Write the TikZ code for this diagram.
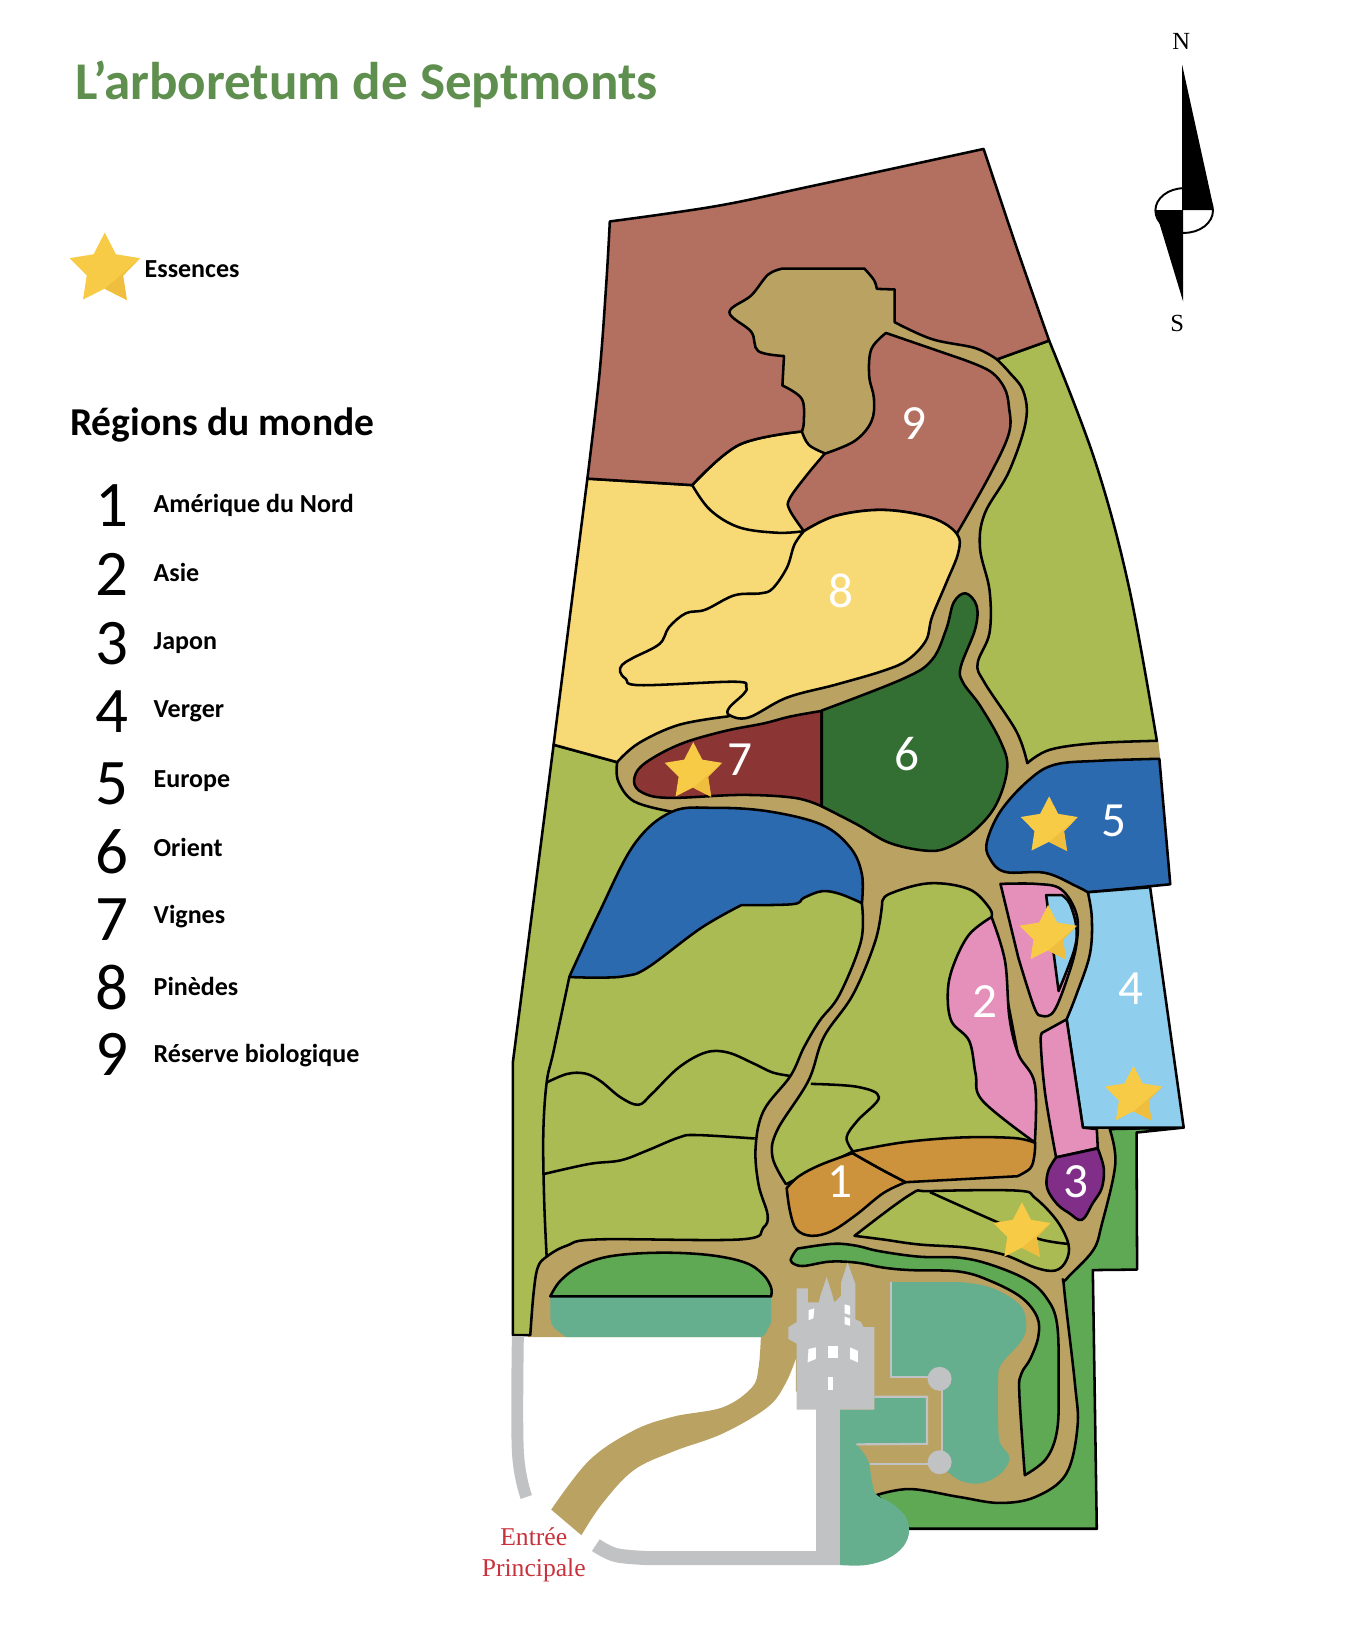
\documentclass[tikz,border=0pt]{standalone}
\usepackage{fontspec}
\setmainfont{Carlito}
\newfontfamily\mapserif{Liberation Serif}
\usetikzlibrary{shapes.geometric}
\definecolor{roadc}{HTML}{B9A262}
\definecolor{sagec}{HTML}{AABB53}
\definecolor{brownc}{HTML}{B37060}
\definecolor{yellowc}{HTML}{F7D975}
\definecolor{pinec}{HTML}{336E33}
\definecolor{winec}{HTML}{8C3535}
\definecolor{bluec}{HTML}{2C6AB0}
\definecolor{skyc}{HTML}{90CEEE}
\definecolor{pinkc}{HTML}{E590BA}
\definecolor{purplec}{HTML}{802E88}
\definecolor{orangec}{HTML}{CC923C}
\definecolor{meadowc}{HTML}{5FA955}
\definecolor{tealc}{HTML}{65AE8E}
\definecolor{stonec}{HTML}{C1C2C4}
\definecolor{titlec}{HTML}{5F8F4E}
\definecolor{entryc}{HTML}{C8323C}
\definecolor{starfill}{HTML}{F7CB45}
\definecolor{starshade}{HTML}{F0BE3E}
\newcommand{\starfacet}[1]{\fill[starshade] (#1.outer point 5) -- (#1.inner point 4) -- (#1.outer point 4) -- (#1.inner point 3) -- cycle;}
\tikzset{
    zone/.style = {draw=black,line width=1.45pt,line join=round},
    soft/.style = {smooth,tension=.6},
    stonepath/.style = {draw=stonec,line width=1.2pt},
    stoneroad/.style = {draw=stonec,line width=#1},
    essence/.style = {star,star points=5,star point ratio=1.95,inner sep=0pt,fill=starfill,minimum size=1.2cm},
    mapnum/.style = {text=white,font=\fontsize{28}{30}\selectfont},
    regnum/.style = {font=\fontsize{37}{40}\selectfont},
    reglabel/.style = {anchor=west,font=\fontsize{14.8}{16}\selectfont\bfseries},
    compass/.style = {font=\mapserif\fontsize{14}{16}\selectfont}
}
\begin{document}
\begin{tikzpicture}[x=0.01986cm,y=-0.01986cm]
\path[use as bounding box] (-1.5,-1.5) rectangle (1374.1,1646);
% road under everything
\fill[roadc] (640,470) -- (700,250) -- (900,250) -- (1040,345) -- (1060,500) -- (1060,700) -- (1165,745) -- (1167,763) -- (1170,880) -- (1140,890) -- (1130,1140) -- (1125,1200) -- (1092,1290) -- (1092,1440) -- (1085,1500) -- (1040,1525) -- (881,1525) -- (835,1450) -- (835,1400) -- (800,1400) -- (800,1345) -- (530,1345) -- (535,1100) -- (560,800) -- (600,700) -- cycle;
% meadow east and south
\draw[zone,fill=meadowc] (1190.5,1134) -- (1143,1139) -- (1143.6,1277) -- (1099,1277.5) -- (1103,1538) -- (914,1538) -- (881.4,1504) -- plot[soft] coordinates {(881.4,1504) (915,1498) (964.5,1506) (1005,1512) (1041,1506) (1072,1483) (1083.5,1436) (1081,1392) (1070,1295) (1072,1287) (1099,1258) (1108,1231.6) (1121.6,1171) (1116,1135.5)} -- cycle;
% sage west
\draw[zone,fill=sagec] (556,748.5) -- (620,766) -- plot[soft] coordinates {(620,766) (621,785) (637,805.5) (673,815.5)} -- (720,830) -- (800,850) -- (860,885) -- plot[soft] coordinates {(866.5,909) (865.6,946) (844,1000) (823.8,1026.6) (808,1053.4) (794.5,1082) (767.5,1117) (759.4,1154) (762.4,1191.5) (771.4,1221.6) (767,1235) (744.5,1246.6) (601,1246.6) (569,1253) (549,1264) (540,1275) (535.7,1302) (532.5,1343)} -- (515,1343) -- (515,1068) -- cycle;
\draw[zone] plot[soft] coordinates {(571.7,983) (556,1057) (549,1088.6) (545.6,1140.5) (546.5,1207.5) (549,1264)};
\draw[zone] plot[soft] coordinates {(549,1088.6) (569.5,1080) (587.5,1079.5) (603,1087) (623.5,1103.6) (641.5,1111) (655,1100) (682,1073.5) (709,1058.4) (731.5,1058.4) (758.5,1070) (776.5,1078.5) (794.5,1082)};
\draw[zone] plot[soft] coordinates {(546.5,1180.7) (592,1170.6) (623.5,1167) (650.5,1157) (682,1144) (700,1141.5) (758.5,1145)};
% sage east
\draw[zone,fill=sagec] (1055,341.5) -- (1002.4,360.4) -- plot[soft] coordinates {(1002.4,360.4) (1014.5,373) (1029,392.5) (1031.5,423) (1014.5,473.5) (990,516) (985.4,550.7) (995,593) (995,635.7) (983,666.5) (990,686) (1022,735) (1033,767)} -- plot[soft] coordinates {(1033,767) (1055.5,753.6) (1100.5,747) (1163.5,744.5)} -- plot[soft] coordinates {(1163.5,744.5) (1135,588) (1101,462) (1055,341.5)} -- cycle;
% sage centre
\draw[zone,fill=sagec] plot[soft] coordinates {(886.8,909) (893.5,899) (934,888) (974.5,894) (995,913) (997,922)} -- (1040.6,1149) -- (857.5,1158) -- (790,1191) -- plot[soft] coordinates {(790,1191) (776.5,1164) (781,1137) (812.5,1087) (828,1043) (857.5,1000) (880,946) (886.8,909)} -- cycle;
\draw[zone] plot[soft] coordinates {(815,1090) (862,1093) (883.6,1103.6) (862,1127) (851,1144) (857.5,1158)};
% yellow west, brown north
\draw[zone,fill=yellowc] (590,480.5) -- (695.6,487) -- plot[soft] coordinates {(695.6,487) (742.7,446.5) (806,433)} -- plot[soft] coordinates {(806,433) (813,446.5) (829,455)} -- (808,533) -- (850,600) -- (760,710) -- plot[soft] coordinates {(731,720) (682,728.5) (641.5,747) (620,766)} -- (556,748.5) -- cycle;
\draw[zone] plot[soft] coordinates {(695.6,487) (713.6,512) (742.7,529.5) (781.5,535) (808,533.4)};
\draw[zone,fill=brownc] plot[soft] coordinates {(612.6,221.5) (720,206) (815.5,186) (989,148.5)} -- plot[soft] coordinates {(989,148.5) (1022,247) (1055,341.5)} -- (1002.4,360.4) -- plot[soft] coordinates {(1002.4,360.4) (980.5,349) (937,340) (899.5,323)} -- (899.5,290) -- (881.5,289.4) -- plot[soft] coordinates {(881.5,289.4) (878.6,280.5) (869,269)} -- plot[soft] coordinates {(786.4,269) (772,275) (755,296) (733,313) (755,332.6) (762,352) (788,357)} -- (786.4,386.7) -- plot[soft] coordinates {(786.4,386.7) (805.8,400) (808,423) (806,433)} -- plot[soft] coordinates {(806,433) (742.7,446.5) (695.6,487)} -- (590,480.5) -- plot[soft] coordinates {(590,480.5) (602,377) (609,284.4) (612.6,221.5)} -- cycle;
% zone 9 and zone 8
\draw[zone,fill=brownc] (890.7,333.8) -- plot[soft] coordinates {(966,359.7) (995,372) (1009.7,388.6) (1014.5,408) (1014.5,435) (995,477.4) (962,536)} -- plot[soft] coordinates {(962,536) (937,520) (888,512) (840,518) (808,533.4)} -- plot[soft] coordinates {(808,533.4) (793.7,512) (793.7,500.6) (810.6,477.4) (829,455.4)} -- plot[soft] coordinates {(829,455.4) (859,442.7) (876,423) (878.6,400) (873.8,377) (876,350) (890.7,333.8)} -- cycle;
\draw[zone,fill=yellowc] plot[soft] coordinates {(808,533.4) (840,518) (888,512) (937,520) (962,536) (963.6,554.6) (951.4,585.5) (937,620) (931,643.4) (912.6,663) (888,674) (840,688) (791,701) (752.4,721) (733,718.6) (733,711) (747.6,697) (750,690) (738,685) (643,688.5) (628.6,682) (623,675) (625,668) (636,661) (662.6,647) (672.3,630) (689.3,616) (708.7,612.5) (738,598) (764.5,596) (776.7,591) (791,570) (798.5,547) (808,533.4)} -- cycle;
% lake, wine, pine
\draw[zone,fill=bluec] plot[soft] coordinates {(571.7,982.4) (601,919.4) (637,849) (675,816) (718,812) (772,815.5) (826,829) (855,852.4) (866.5,879) (866.5,908)} -- plot[soft] coordinates {(866.5,908) (844,898.6) (826,896) (808,902.6) (797,909) (745,910)} -- plot[soft] coordinates {(745,910) (704.5,933) (650.5,973) (628,981.4) (601,983) (571.7,982.4)} -- cycle;
\draw[zone,fill=winec] (826,714.4) -- (826,810.5) -- plot[soft] coordinates {(826,810.5) (799,802) (745,799) (673,802) (646,797) (637,785.4) (646,768.6) (682,748.5) (727,735) (767.5,727) (794.5,720) (826,714.4)} -- cycle;
\draw[zone,fill=pinec] (826,714) -- plot[soft] coordinates {(826,714) (908,682) (937,663) (951.4,632) (959,605) (971,596) (982,608.6) (980.5,632) (966,670) (968.4,686) (985.4,709) (1006,745) (1012.8,772) (1001.5,809) (979,835.6) (952,852.4) (929.5,855) (893.5,847) (862,829) (826,810.5)} -- cycle;
% europe
\draw[zone,fill=bluec] (1166,762.6) -- (1177,889) -- (1094,897) -- plot[soft] coordinates {(1094,897) (1082.5,891) (1051,877.5) (1010.5,876.5) (995,862.5) (992.5,845.7) (1006,815.5) (1033,785.4) (1060,768.7) (1105,764.6) (1166,762.6)} -- cycle;
% orchard and the pink strips
\draw[zone,fill=skyc] (1094,897) -- (1156.7,892) -- (1190.5,1134) -- (1089,1134) -- (1072.6,1025) -- plot[soft] coordinates {(1072.6,1025) (1082.5,1000) (1096,959.6) (1098,923) (1094,897)} -- cycle;
\draw[zone,fill=pinkc] (1006,888.6) -- plot[soft] coordinates {(1006,888.6) (1042,888.6) (1067,894) (1082.5,919) (1082.5,949.6) (1073.5,983) (1060,1016.5) (1048,1021.6) (1040,1013) (1024,963)} -- cycle;
\draw[zone,fill=skyc] (1052,900) -- (1068,900) -- plot[soft] coordinates {(1068,900) (1076,909) (1082.5,933) (1080,956) (1064.5,996.5)} -- cycle;
\draw[zone,fill=pinkc] plot[soft] coordinates {(997,922) (974.5,939.5) (959,969.6) (953,996.5) (956.5,1026.6) (974.5,1046.7) (981,1080) (988,1107) (1040.6,1149)} -- plot[soft] coordinates {(1040.6,1149) (1040.6,1090) (1024,1060) (1015,1023) (1010.5,966) (997,922)} -- cycle;
\draw[zone,fill=pinkc] (1049,1038) -- (1072.6,1025) -- (1089,1134) -- (1103,1135.5) -- (1104,1154.6) -- (1062,1164) -- plot[soft] coordinates {(1062,1164) (1051,1100) (1046.5,1047) (1049,1038)} -- cycle;
% orange
\draw[zone,fill=orangec] plot[soft] coordinates {(790.7,1195) (794,1218) (800.6,1236.6) (816,1243) (836.5,1238) (861,1221.6) (888,1200) (910.6,1189)} -- plot[soft] coordinates {(910.6,1189) (884,1175) (857,1159.7)} -- plot[soft] coordinates {(857,1159.7) (825,1171.4) (803,1183) (790.7,1195)} -- cycle;
\draw[zone,fill=orangec] (910.6,1189) -- plot[soft] coordinates {(1023,1183) (1036,1175) (1040,1163) (1041,1149.5)} -- plot[soft] coordinates {(1041,1149.5) (1019.6,1144.5) (965.5,1144) (907,1149) (857.5,1158)} -- plot[soft] coordinates {(857,1159.7) (884,1175) (910.6,1189)} -- cycle;
% japan
\draw[zone,fill=purplec] (1062,1164) -- (1104,1155) -- plot[soft] coordinates {(1104,1155) (1110,1175) (1108,1195) (1099,1210) (1088,1227) (1075,1220) (1063,1211) (1053,1195) (1054,1178) (1062,1164)} -- cycle;
% small triangle
\draw[zone,fill=sagec] (859,1243) -- plot[soft] coordinates {(859,1243) (915,1201.5) (935,1198) (1023,1197.5) (1041,1205) (1063,1228) (1074.5,1251.7) (1072,1268.4) (1061,1278) (1041,1275) (1009.4,1262) (973.5,1255) (924,1251.7) (888,1246.7) (859,1243)} -- cycle;
\draw[zone] plot[soft] coordinates {(935,1199) (1000,1228) (1043,1245.7) (1073,1251)};
% meadow strip, dome
\draw[zone,fill=meadowc] plot[soft] coordinates {(795,1266) (800.6,1257) (807,1255) (838.7,1251) (861,1253) (883.7,1258.4) (924,1264) (964.5,1265) (996,1272) (1032,1287) (1052,1305) (1063,1332) (1064.6,1392) (1063,1439) (1052,1467.5) (1030.5,1484)} -- plot[soft] coordinates {(1030.5,1484) (1025,1402) (1027,1382) (1036,1367) (1044,1345) (1043,1325) (1027,1305) (996,1288.5) (964.5,1279) (915,1277.5) (888,1275) (861,1270) (834,1269) (807,1273.4) (796,1270) (795,1266)} -- cycle;
\fill[tealc] (552.7,1304) -- (775,1304) -- (775,1330) -- plot[soft] coordinates {(775,1330) (769,1342) (764.7,1345)} -- (569,1345) -- plot[soft] coordinates {(569,1345) (556,1335) (552.7,1325.3)} -- cycle;
\draw[zone,fill=meadowc] plot[soft] coordinates {(552.7,1304) (562.6,1288.5) (582.8,1273.4) (614,1263.4) (663.6,1260) (713,1262.4) (749,1270) (767,1282) (775,1295) (775,1304)} -- cycle;
% castle gardens
\fill[tealc] (896,1289.5) -- (964.5,1289.5) -- plot[soft] coordinates {(964.5,1289.5) (996,1295) (1025,1312) (1032,1332) (1027,1349) (1007,1372) (1003.5,1389) (1004,1442.4) (1007,1454) (1015,1466) (1009.4,1479) (996,1489) (980,1492.6) (964.5,1489) (953,1481)} -- (947.4,1459) -- (947.4,1392) -- (933,1385.5) -- (896,1385.5) -- cycle;
\fill[tealc] (844.6,1418) -- (879,1418) -- (879,1405) -- (932,1405) -- (932,1452.5) -- (861,1453) -- plot[soft] coordinates {(861,1453) (872.4,1469) (877,1492.6) (881.4,1504) (897,1512.7) (910.6,1526) (914,1541) (908,1556) (892.6,1568) (870,1574.6) (844.6,1574.6)} -- cycle;
\draw[stonepath] (896,1289.5) -- (896,1385.5) -- (934,1385.5);
\draw[stonepath] (879,1405) -- (932,1405) -- (932,1452.5) -- (861,1453);
\draw[stonepath] (874.7,1472.5) -- (934,1472.5);
\draw[stonepath] (947,1387) -- (947,1471);
\node[circle,fill=stonec,inner sep=0pt,minimum size=0.48cm] (fountainn) at (944.7,1387) {};
\node[circle,fill=stonec,inner sep=0pt,minimum size=0.48cm] (fountains) at (944.7,1471) {};
% entrance road and stone paths
\fill[roadc] (764.7,1345) -- plot[soft] coordinates {(764.7,1345) (762.4,1375.5) (755.7,1395.6) (726.5,1415.6) (677,1425) (636.7,1439) (592,1469) (553.6,1518.7)} -- (584,1544.5) -- plot[soft] coordinates {(584,1544.5) (605,1512.7) (636.7,1479) (677,1460) (726.5,1442) (771.4,1415.6) (789.4,1392) (800.6,1365)} -- (800.6,1345) -- cycle;
\draw[stoneroad=6.8pt] plot[soft] coordinates {(520,1344) (520,1460) (528.5,1506)};
\draw[stoneroad=8pt] plot[soft] coordinates {(598.5,1554.5) (618.7,1564.5) (650,1567.5)} -- (844,1567.5);
\draw[stoneroad=13.6pt] (832.7,1410) -- (832.7,1574.6);
% castle
\fill[stonec] (800.6,1418) -- (879,1418) -- (879,1335) -- (868,1335) -- (865.7,1330) -- (860,1327) -- (860,1292) -- (852,1270) -- (845.5,1290) -- (845.5,1303.5) -- (838.7,1310) -- (836.5,1302) -- (831,1284.5) -- (825,1302) -- (823,1310) -- (812,1310) -- (812,1296) -- (800.6,1296) -- (800.6,1330) -- (792.5,1335) -- (792.5,1347) -- (800.6,1351.4) -- cycle;
\fill[white] (812.7,1318) -- (818.5,1316) -- (817.6,1326) -- (812.7,1328) -- cycle;
\fill[white] (849,1312) -- (854.5,1313.6) -- (854.5,1322.6) -- (849,1321) -- cycle;
\fill[white] (849,1324.3) -- (854.5,1326.3) -- (854.5,1333.7) -- (849,1332) -- cycle;
\fill[white] (812.7,1357) -- (820,1355.4) -- (820,1367) -- (811.8,1370.5) -- cycle;
\fill[white] (832,1353.7) -- (842.3,1353.7) -- (842.3,1366.5) -- (832,1366.5) -- cycle;
\fill[white] (854.5,1355.4) -- (862.5,1358.8) -- (862.5,1370.5) -- (854.5,1367) -- cycle;
\fill[white] (832,1385) -- (837.4,1385) -- (837.4,1398) -- (832,1398) -- cycle;
% stars
\node[essence] (starw) at (696.6,776) {};
\node[essence] (stare) at (1055,830.6) {};
\node[essence] (starp) at (1054,940) {};
\node[essence] (staro) at (1140,1102) {};
\node[essence] (start) at (1027.6,1239.4) {};
\node[essence,minimum size=1.48cm] (starl) at (104,270) {};
\starfacet{starw}
\starfacet{stare}
\starfacet{starp}
\starfacet{staro}
\starfacet{start}
\starfacet{starl}
% numbers on the map
\node[mapnum] (m1) at (844,1188) {1};
\node[mapnum] (m2) at (990,1006.6) {2};
\node[mapnum] (m3) at (1082,1188) {3};
\node[mapnum] (m4) at (1137,994) {4};
\node[mapnum] (m5) at (1120,825) {5};
\node[mapnum] (m6) at (912,757.6) {6};
\node[mapnum] (m7) at (744,764) {7};
\node[mapnum] (m8) at (845,593.6) {8};
\node[mapnum] (m9) at (919,425.5) {9};
% compass
\draw[line width=1.1pt,fill=white] (1191,210.5) ellipse (29 and 22.5);
\fill[black] (1189,64) -- (1220,205) -- (1220,210) -- (1189,210) -- cycle;
\fill[black] (1162,210) -- (1190,210) -- (1190,302.3) -- cycle;
\node[compass] (north) at (1188,40.5) {N};
\node[compass] (south) at (1184,324) {S};
% texts
\node[anchor=west,text=titlec,font=\fontsize{30.2}{34}\selectfont\bfseries] (title) at (68,83) {L’arboretum de Septmonts};
\node[reglabel] (esslabel) at (138,270) {Essences};
\node[anchor=west,font=\fontsize{22.5}{26}\selectfont\bfseries] (regions) at (63,426) {Régions du monde};
\node[regnum] (r1) at (111,507.5) {1};
\node[regnum] (r2) at (111,577) {2};
\node[regnum] (r3) at (111,647) {3};
\node[regnum] (r4) at (111,715) {4};
\node[regnum] (r5) at (111,787.5) {5};
\node[regnum] (r6) at (111,856) {6};
\node[regnum] (r7) at (111,924.6) {7};
\node[regnum] (r8) at (111,993) {8};
\node[regnum] (r9) at (111,1060) {9};
\node[reglabel] (l1) at (147,507) {Amérique du Nord};
\node[reglabel] (l2) at (147,575) {Asie};
\node[reglabel] (l3) at (147,646) {Japon};
\node[reglabel] (l4) at (147,715) {Verger};
\node[reglabel] (l5) at (147,785) {Europe};
\node[reglabel] (l6) at (147,852) {Orient};
\node[reglabel] (l7) at (147,921.5) {Vignes};
\node[reglabel] (l8) at (147,992) {Pinèdes};
\node[reglabel] (l9) at (147,1061) {Réserve biologique};
\node[align=center,text=entryc,font=\mapserif\fontsize{14.6}{17.6}\selectfont] (entry) at (536,1564) {Entrée\\Principale};
\end{tikzpicture}
\end{document}
